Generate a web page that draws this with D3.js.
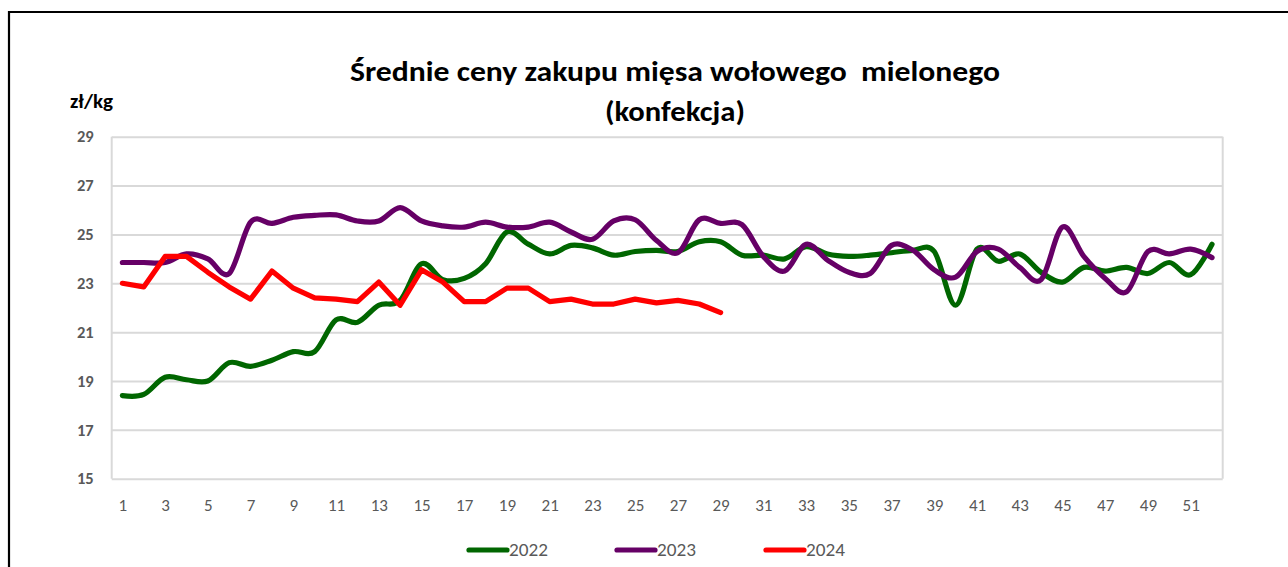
<!DOCTYPE html>
<html>
<head>
<meta charset="utf-8">
<script src="https://cdn.jsdelivr.net/npm/d3@7"></script>
<style>
  html, body { margin: 0; padding: 0; background: #fff; }
  svg { display: block; }
  text { font-family: "Carlito", "Liberation Sans Narrow", "Lato", "Open Sans", sans-serif; white-space: pre; }
</style>
</head>
<body>
<svg id="chart" width="1288" height="567"></svg>
<script>
// ---- data ----
const weeks = d3.range(1, 53);
const xTickLabels = d3.range(1, 52, 2);
const yTicks = [15, 17, 19, 21, 23, 25, 27, 29];
const seriesNames = ["2022", "2023", "2024"];
const values2022 = [18.4, 18.45, 19.15, 19.05, 19.0, 19.75, 19.6, 19.85, 20.2, 20.2, 21.5, 21.4, 22.1, 22.3, 23.8, 23.15, 23.2, 23.8, 25.1, 24.6, 24.2, 24.55, 24.45, 24.15, 24.3, 24.35, 24.3, 24.7, 24.7, 24.15, 24.15, 24.0, 24.5, 24.2, 24.1, 24.15, 24.25, 24.35, 24.3, 22.1, 24.4, 23.9, 24.2, 23.45, 23.05, 23.65, 23.5, 23.65, 23.4, 23.85, 23.35, 24.6];
const values2023 = [23.85, 23.85, 23.85, 24.2, 24.0, 23.4, 25.5, 25.45, 25.7, 25.78, 25.8, 25.55, 25.55, 26.1, 25.55, 25.35, 25.3, 25.5, 25.3, 25.3, 25.5, 25.1, 24.8, 25.55, 25.6, 24.75, 24.25, 25.6, 25.45, 25.4, 24.1, 23.5, 24.6, 23.95, 23.45, 23.4, 24.55, 24.35, 23.55, 23.25, 24.3, 24.4, 23.65, 23.15, 25.3, 24.1, 23.2, 22.65, 24.3, 24.2, 24.4, 24.05];
const values2024 = [23.0, 22.85, 24.1, 24.1, 23.45, 22.85, 22.35, 23.5, 22.8, 22.4, 22.35, 22.25, 23.05, 22.1, 23.55, 23.05, 22.25, 22.25, 22.8, 22.8, 22.25, 22.35, 22.15, 22.15, 22.35, 22.2, 22.3, 22.15, 21.8];
const titleLines = ["Średnie ceny zakupu mięsa wołowego  mielonego", "(konfekcja)"];
const unitLabel = "zł/kg";

// ---- styles ----
const colors = { "2022": "#006600", "2023": "#660066", "2024": "#ff0000" };
const smooth = { "2022": true, "2023": true, "2024": false };
const grey = "#595959";
const gridColor = "#d9d9d9";

const svg = d3.select("#chart");

// outer border (open at right/bottom)
svg.append("path")
  .attr("d", "M9,567 L9,12 L1288,12")
  .attr("fill", "none").attr("stroke", "#000").attr("stroke-width", 2.2);

const plot = { left: 111.7, right: 1222.7, top: 136.7, bottom: 478.7 };
const x = d3.scalePoint().domain(weeks).range([plot.left, plot.right]).padding(0.5);
const y = d3.scaleLinear().domain([15, 29]).range([plot.bottom, plot.top]);

// gridlines
const yAxis = d3.axisLeft(y).tickValues(yTicks).tickSize(-(plot.right - plot.left)).tickFormat(d3.format("d")).tickPadding(18);
const gy = svg.append("g").attr("transform", `translate(${plot.left},0)`).call(yAxis);
gy.select(".domain").remove();
gy.selectAll(".tick line").attr("stroke", gridColor).attr("stroke-width", 2);
gy.selectAll(".tick text").attr("fill", grey).attr("font-size", 16.5).attr("font-weight", "bold");

// plot borders left/right
svg.append("line").attr("x1", plot.left).attr("x2", plot.left).attr("y1", plot.top).attr("y2", plot.bottom)
  .attr("stroke", gridColor).attr("stroke-width", 2);
svg.append("line").attr("x1", plot.right).attr("x2", plot.right).attr("y1", plot.top).attr("y2", plot.bottom)
  .attr("stroke", gridColor).attr("stroke-width", 2);

// x axis labels
const xAxis = d3.axisBottom(x).tickValues(xTickLabels).tickSize(0).tickPadding(20);
const gx = svg.append("g").attr("transform", `translate(0,${plot.bottom})`).call(xAxis);
gx.select(".domain").remove();
gx.selectAll(".tick text").attr("fill", grey).attr("font-size", 17);

// lines
const series = [
  { name: "2022", values: values2022 },
  { name: "2023", values: values2023 },
  { name: "2024", values: values2024 }
];
series.forEach(s => {
  const line = d3.line()
    .x((d, i) => x(weeks[i]))
    .y(d => y(d))
    .curve(smooth[s.name] ? d3.curveCardinal.tension(0) : d3.curveLinear);
  svg.append("path")
    .datum(s.values)
    .attr("d", line)
    .attr("fill", "none")
    .attr("stroke", colors[s.name])
    .attr("stroke-width", 5.2)
    .attr("stroke-linejoin", "round")
    .attr("stroke-linecap", "round");
});

// title
svg.append("text").attr("x", 675).attr("y", 81).attr("text-anchor", "middle")
  .attr("font-size", 28).attr("font-weight", "bold").attr("fill", "#000")
  .attr("textLength", 650).attr("lengthAdjust", "spacingAndGlyphs")
  .text(titleLines[0]);
svg.append("text").attr("x", 675).attr("y", 121).attr("text-anchor", "middle")
  .attr("font-size", 28).attr("font-weight", "bold").attr("fill", "#000")
  .attr("textLength", 140).attr("lengthAdjust", "spacingAndGlyphs")
  .text(titleLines[1]);

// unit label
svg.append("text").attr("x", 70).attr("y", 108)
  .attr("font-size", 20).attr("font-weight", "bold").attr("fill", "#000")
  .attr("textLength", 43).attr("lengthAdjust", "spacingAndGlyphs")
  .text(unitLabel);

// legend
const legendX = [467, 615, 764];
const legendY = 550;
seriesNames.forEach((n, i) => {
  const g = svg.append("g");
  g.append("line").attr("x1", legendX[i] + 2).attr("x2", legendX[i] + 40)
    .attr("y1", legendY).attr("y2", legendY)
    .attr("stroke", colors[n]).attr("stroke-width", 5.2).attr("stroke-linecap", "round");
  g.append("text").attr("x", legendX[i] + 42).attr("y", legendY).attr("dy", "0.36em")
    .attr("font-size", 18).attr("fill", grey)
    .attr("textLength", 39).attr("lengthAdjust", "spacingAndGlyphs")
    .text(n);
});
</script>
</body>
</html>
